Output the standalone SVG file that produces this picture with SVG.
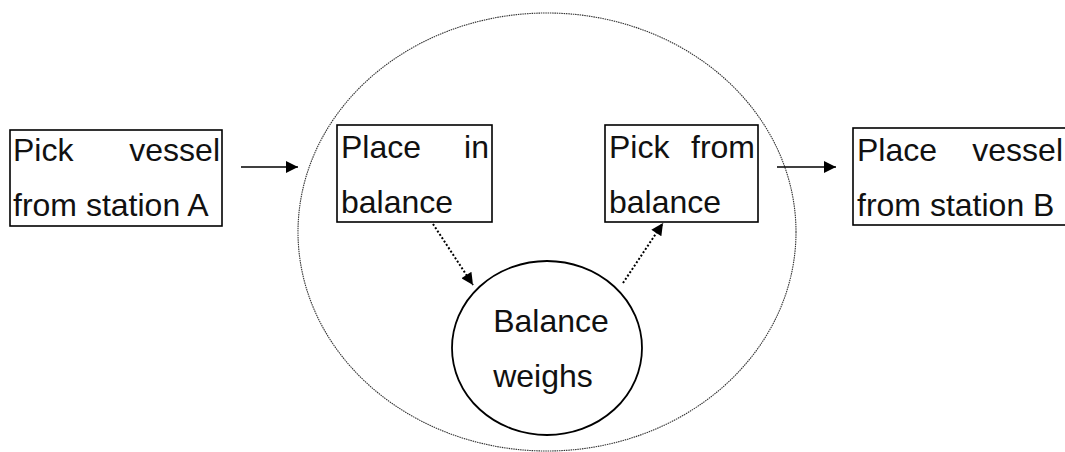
<svg xmlns="http://www.w3.org/2000/svg" width="1065" height="452" viewBox="0 0 1065 452">
<style>
.box{fill:none;stroke:#000;stroke-width:1.6}
.t{font-family:"Liberation Sans",Arial,sans-serif;font-size:32px;fill:#111}
.e{text-anchor:end}
.m{text-anchor:middle}
.solid{stroke:#000;stroke-width:1.6;fill:none}
.dot{stroke:#000;stroke-width:2;stroke-dasharray:2 2;fill:none}
</style>
<defs>
<marker id="ah" viewBox="0 0 10 10" refX="10" refY="5" markerWidth="17" markerHeight="12" markerUnits="userSpaceOnUse" orient="auto">
<path d="M0,0 L10,5 L0,10 z" fill="#000"/>
</marker>
</defs>
<rect width="1065" height="452" fill="#fff"/>
<g id="outer">
<ellipse cx="547" cy="232" rx="249" ry="219" fill="none" stroke="#333" stroke-width="1.1" stroke-dasharray="1.5 0.8"/>
</g>
<g id="pickA">
<rect class="box" x="10" y="130" width="212" height="96"/>
<text class="t" x="13" y="161">Pick</text>
<text class="t e" x="220" y="161">vessel</text>
<text class="t" x="13" y="216">from station A</text>
</g>
<g id="place">
<rect class="box" x="337" y="125" width="155" height="97"/>
<text class="t" x="341" y="158">Place</text>
<text class="t e" x="489" y="158">in</text>
<text class="t" x="341" y="213">balance</text>
</g>
<g id="pickBal">
<rect class="box" x="605" y="125" width="153" height="97"/>
<text class="t" x="609" y="158">Pick</text>
<text class="t e" x="755" y="158">from</text>
<text class="t" x="609" y="213">balance</text>
</g>
<g id="placeB">
<rect class="box" x="853" y="128" width="214" height="97"/>
<text class="t" x="857" y="161">Place</text>
<text class="t e" x="1063" y="161">vessel</text>
<text class="t" x="857" y="216">from station B</text>
</g>
<g id="weigh">
<ellipse cx="547" cy="348" rx="95" ry="87" fill="none" stroke="#000" stroke-width="1.8"/>
<text class="t m" x="551" y="332">Balance</text>
<text class="t m" x="543" y="387">weighs</text>
</g>
<g id="connectors">
<line class="solid" x1="241" y1="167" x2="298" y2="167" marker-end="url(#ah)"/>
<line class="solid" x1="777" y1="167" x2="836" y2="167" marker-end="url(#ah)"/>
<line class="dot" x1="433" y1="224" x2="473" y2="285" marker-end="url(#ah)"/>
<line class="dot" x1="623" y1="283" x2="663" y2="223" marker-end="url(#ah)"/>
</g>
</svg>
